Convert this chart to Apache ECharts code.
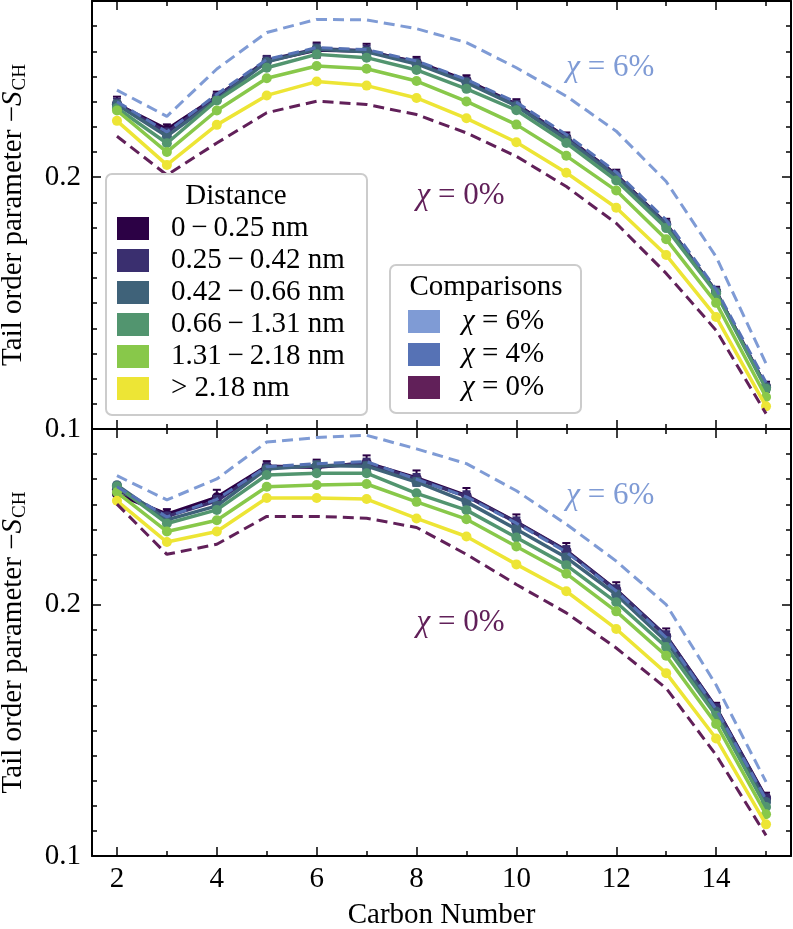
<!DOCTYPE html>
<html><head><meta charset="utf-8">
<script src="https://cdn.jsdelivr.net/npm/echarts@6/dist/echarts.min.js"></script>
<style>html,body{margin:0;padding:0;background:#fff}#c{width:793px;height:929px}</style>
</head><body><div id="c"></div>
<script>
// ---------------- data ----------------
const carbons = [2,3,4,5,6,7,8,9,10,11,12,13,14,15];
const xTickMajor = [2,4,6,8,10,12,14];
const xTickMinor = [3,5,7,9,11,13,15];
const yTickMajor = [0.1,0.2];
const yTickMinor = [0.11,0.12,0.13,0.14,0.15,0.16,0.17,0.18,0.19,0.21,0.22,0.23,0.24,0.25,0.26,0.27];

const distanceNames = ['0\u2009−\u20090.25 nm','0.25\u2009−\u20090.42 nm','0.42\u2009−\u20090.66 nm','0.66\u2009−\u20091.31 nm','1.31\u2009−\u20092.18 nm','> 2.18 nm'];
const comparisonNames = ['χ = 6%','χ = 4%','χ = 0%'];

// top panel
const topD1 = [0.2290,0.2190,0.2320,0.2462,0.2505,0.2500,0.2458,0.2385,0.2290,0.2158,0.2010,0.1815,0.1545,0.1168];
const topD2 = [0.2292,0.2178,0.2318,0.2465,0.2510,0.2502,0.2455,0.2380,0.2288,0.2155,0.2008,0.1813,0.1546,0.1167];
const topD3 = [0.2289,0.2163,0.2308,0.2458,0.2508,0.2498,0.2450,0.2376,0.2283,0.2150,0.2003,0.1810,0.1544,0.1166];
const topD4 = [0.2275,0.2135,0.2305,0.2435,0.2488,0.2475,0.2426,0.2351,0.2266,0.2136,0.1987,0.1798,0.1539,0.1160];
const topD5 = [0.2265,0.2100,0.2265,0.2393,0.2442,0.2431,0.2382,0.2301,0.2209,0.2085,0.1947,0.1754,0.1501,0.1127];
const topD6 = [0.2224,0.2049,0.2208,0.2325,0.2380,0.2364,0.2315,0.2234,0.2139,0.2018,0.1879,0.1691,0.1445,0.1090];
const topChi6 = [0.2346,0.2242,0.2430,0.2575,0.2627,0.2625,0.2590,0.2535,0.2435,0.2322,0.2183,0.1983,0.1684,0.1260];
const topChi4 = [0.2300,0.2180,0.2330,0.2468,0.2515,0.2507,0.2462,0.2388,0.2298,0.2170,0.2020,0.1830,0.1555,0.1185];
const topChi0 = [0.2163,0.2009,0.2136,0.2256,0.2302,0.2289,0.2249,0.2176,0.2083,0.1963,0.1817,0.1618,0.1392,0.1061];
const topErr1 = [0.003,0.002,0.002,0.002,0.003,0.003,0.002,0.002,0.002,0.002,0.002,0.002,0.002,0.002];
const topErr2 = [0.002,0.0015,0.0015,0.0015,0.002,0.002,0.0015,0.0015,0.0015,0.0015,0.0015,0.0015,0.0015,0.0015];
const topErr3 = [0.0015,0.001,0.001,0.001,0.0015,0.0015,0.001,0.001,0.001,0.001,0.001,0.001,0.001,0.001];

// bottom panel
const botD1 = [0.2441,0.2361,0.2428,0.2552,0.2548,0.2565,0.2505,0.2435,0.2330,0.2216,0.2060,0.1876,0.1590,0.1232];
const botD2 = [0.2460,0.2352,0.2414,0.2548,0.2552,0.2562,0.2501,0.2432,0.2328,0.2214,0.2058,0.1875,0.1588,0.1229];
const botD3 = [0.2476,0.2338,0.2394,0.2541,0.2555,0.2552,0.2489,0.2410,0.2301,0.2188,0.2041,0.1855,0.1575,0.1215];
const botD4 = [0.2472,0.2324,0.2378,0.2517,0.2524,0.2524,0.2444,0.2377,0.2268,0.2158,0.2010,0.1832,0.1558,0.1195];
const botD5 = [0.2448,0.2292,0.2337,0.2470,0.2477,0.2481,0.2410,0.2341,0.2232,0.2124,0.1974,0.1797,0.1526,0.1166];
const botD6 = [0.2414,0.2250,0.2292,0.2425,0.2425,0.2421,0.2344,0.2272,0.2161,0.2054,0.1904,0.1728,0.1468,0.1126];
const botChi6 = [0.2514,0.2418,0.2501,0.2648,0.2666,0.2675,0.2621,0.2562,0.2454,0.2321,0.2174,0.2001,0.1681,0.1295];
const botChi4 = [0.2470,0.2350,0.2420,0.2550,0.2562,0.2570,0.2500,0.2430,0.2325,0.2210,0.2055,0.1870,0.1585,0.1225];
const botChi0 = [0.2401,0.2201,0.2241,0.2352,0.2352,0.2345,0.2308,0.2201,0.2081,0.1968,0.1828,0.1668,0.1402,0.1082];
const botErr1 = [0.002,0.002,0.003,0.002,0.003,0.003,0.003,0.003,0.003,0.003,0.003,0.003,0.002,0.002];
const botErr2 = [0.0015,0.0015,0.002,0.0015,0.002,0.002,0.002,0.002,0.002,0.002,0.002,0.002,0.0015,0.0015];
const botErr3 = [0.001,0.001,0.0015,0.001,0.0015,0.0015,0.0015,0.0015,0.0015,0.0015,0.0015,0.0015,0.001,0.001];

// annotations [x, y] in data units
const annot6 = [11, 0.2435];
const annot0 = [8, 0.1928];

// ---------------- style ----------------
const FONT = '"Liberation Serif", "Times New Roman", serif';
const FS = 29;
const AFS = 31;
const distanceColors = ['#2c0145','#3a2f6f','#3f6279','#52956f','#88c84a','#ede535'];
const comparisonColors = ['#7f9bd5','#5672b5','#612059'];

const panels = [
  {d:[topD1,topD2,topD3,topD4,topD5,topD6], c:[topChi6,topChi4,topChi0], e:[topErr1,topErr2,topErr3]},
  {d:[botD1,botD2,botD3,botD4,botD5,botD6], c:[botChi6,botChi4,botChi0], e:[botErr1,botErr2,botErr3]}
];

const grids = [
  {left:92, right:2, top:1, height:428, containLabel:false, outerBoundsMode:'none'},
  {left:92, right:2, top:429, height:427, containLabel:false, outerBoundsMode:'none'}
];

const xAxes = [], yAxes = [], series = [];
const axLine = {show:true, onZero:false, lineStyle:{color:'#000', width:2}};
panels.forEach((p, g) => {
  ['bottom','top'].forEach(pos => {
    xAxes.push({type:'value', gridIndex:g, position:pos, min:1.5, max:15.5,
      axisLine:axLine, splitLine:{show:false},
      axisTick:{show:true, inside:true, length:9, customValues:xTickMajor, lineStyle:{color:'#000', width:1.5}},
      axisLabel:{show:(g===1 && pos==='bottom'), customValues:xTickMajor, color:'#000', fontFamily:FONT, fontSize:FS, margin:9},
      name:(g===1 && pos==='bottom') ? 'Carbon Number' : '', nameLocation:'middle', nameGap:45,
      nameTextStyle:{color:'#000', fontFamily:FONT, fontSize:FS}});
    xAxes.push({type:'value', gridIndex:g, position:pos, min:1.5, max:15.5,
      axisLine:{show:false, onZero:false}, splitLine:{show:false},
      axisTick:{show:true, inside:true, length:5, customValues:xTickMinor, lineStyle:{color:'#000', width:1.5}},
      axisLabel:{show:false}});
  });
  ['left','right'].forEach(pos => {
    yAxes.push({type:'value', gridIndex:g, position:pos, min:0.1, max:0.27,
      axisLine:axLine, splitLine:{show:false},
      axisTick:{show:true, inside:true, length:9, customValues:yTickMajor, lineStyle:{color:'#000', width:1.5}},
      axisLabel:{show:pos==='left', customValues:yTickMajor, color:'#000', fontFamily:FONT, fontSize:FS, margin:11,
        formatter:v => v.toFixed(1)},
      name: pos==='left' ? '{t|Tail order parameter −}{s|S}{c|CH}' : '',
      nameLocation:'middle', nameRotate:90, nameGap:62,
      nameTextStyle:{color:'#000', fontFamily:FONT, fontSize:FS,
        rich:{t:{fontFamily:FONT, fontSize:FS, color:'#000', lineHeight:34},
              s:{fontFamily:FONT, fontSize:FS, fontStyle:'italic', color:'#000', lineHeight:34},
              c:{fontFamily:FONT, fontSize:19, color:'#000', lineHeight:19, padding:[13,0,0,1], verticalAlign:'bottom'}}}});
    yAxes.push({type:'value', gridIndex:g, position:pos, min:0.1, max:0.27,
      axisLine:{show:false, onZero:false}, splitLine:{show:false},
      axisTick:{show:true, inside:true, length:5, customValues:yTickMinor, lineStyle:{color:'#000', width:1.5}},
      axisLabel:{show:false}});
  });

  const xi = g*4, yi = g*4;
  // distance series
  p.d.forEach((vals, k) => {
    series.push({type:'line', name:distanceNames[k], xAxisIndex:xi, yAxisIndex:yi,
      data:carbons.map((c,i)=>[c, vals[i]]), symbol:'circle', symbolSize:10, showSymbol:true,
      color:distanceColors[k], lineStyle:{width:3.5, color:distanceColors[k]},
      itemStyle:{color:distanceColors[k]}, z:2+k*0.01, animation:false});
    if (k < 3) {
      const errs = p.e[k];
      series.push({type:'custom', name:'err'+g+k, xAxisIndex:xi, yAxisIndex:yi,
        data:carbons.map((c,i)=>[c, vals[i]-errs[i], vals[i]+errs[i]]),
        encode:{x:0, y:[1,2]}, itemStyle:{color:distanceColors[k]}, z:2+k*0.01, animation:false,
        renderItem:(params, api) => {
          const x = api.value(0);
          const a = api.coord([x, api.value(2)]), b = api.coord([x, api.value(1)]);
          const w = 4, st = {stroke:distanceColors[k], lineWidth:2};
          return {type:'group', children:[
            {type:'line', shape:{x1:a[0],y1:a[1],x2:b[0],y2:b[1]}, style:st},
            {type:'line', shape:{x1:a[0]-w,y1:a[1],x2:a[0]+w,y2:a[1]}, style:st},
            {type:'line', shape:{x1:b[0]-w,y1:b[1],x2:b[0]+w,y2:b[1]}, style:st}]};
        }});
    }
  });
  // comparison series
  p.c.forEach((vals, k) => {
    series.push({type:'line', name:comparisonNames[k], xAxisIndex:xi, yAxisIndex:yi,
      data:carbons.map((c,i)=>[c, vals[i]]), showSymbol:false, symbol:'none',
      color:comparisonColors[k], lineStyle:{width:3, type:[11,6], color:comparisonColors[k]},
      itemStyle:{color:comparisonColors[k]}, z:3, animation:false});
  });
});

const legendText = {color:'#000', fontFamily:FONT, fontSize:FS, padding:[0,0,0,17],
  rich:{i:{fontFamily:FONT, fontSize:FS, fontStyle:'italic', color:'#000'}}};

const option = {
  animation:false,
  backgroundColor:'#fff',
  grid:grids,
  xAxis:xAxes,
  yAxis:yAxes,
  series:series,
  legend:[
    {data:distanceNames, orient:'vertical', left:117, top:214, itemWidth:32, itemHeight:23, itemGap:3,
     icon:'rect', textStyle:legendText, z:20, selectedMode:false, padding:0},
    {data:comparisonNames, orient:'vertical', left:408, top:307, itemWidth:32, itemHeight:23, itemGap:4,
     icon:'rect', textStyle:legendText, z:20, selectedMode:false, padding:0,
     formatter:n => n.replace('χ','{i|χ}')}
  ],
  graphic:[
    {type:'rect', shape:{x:106, y:174, width:261, height:241, r:6}, z:15,
     style:{fill:'rgba(255,255,255,0.85)', stroke:'#cccccc', lineWidth:2}},
    {type:'rect', shape:{x:390, y:265, width:191, height:148, r:6}, z:15,
     style:{fill:'rgba(255,255,255,0.85)', stroke:'#cccccc', lineWidth:2}},
    {type:'text', x:236, y:196, z:21, style:{text:'Distance', font:FS+'px '+FONT, fill:'#000', textAlign:'center', textVerticalAlign:'middle'}},
    {type:'text', x:486, y:287, z:21, style:{text:'Comparisons', font:FS+'px '+FONT, fill:'#000', textAlign:'center', textVerticalAlign:'middle'}}
  ]
};

const chart = echarts.init(document.getElementById('c'), null, {renderer:'canvas'});
chart.setOption(option);

// annotation labels at data positions
const ann = [];
[0,1].forEach(g => {
  const p6 = chart.convertToPixel({xAxisIndex:g*4, yAxisIndex:g*4}, annot6);
  const p0 = chart.convertToPixel({xAxisIndex:g*4, yAxisIndex:g*4}, annot0);
  ann.push({type:'text', x:p6[0], y:p6[1], z:21, style:{text:'{i|χ} = 6%', textAlign:'left', textVerticalAlign:'middle',
    font:AFS+'px '+FONT, fill:comparisonColors[0],
    rich:{i:{fontStyle:'italic', fontFamily:FONT, fontSize:AFS, fill:comparisonColors[0]}}}});
  ann.push({type:'text', x:p0[0], y:p0[1], z:21, style:{text:'{i|χ} = 0%', textAlign:'left', textVerticalAlign:'middle',
    font:AFS+'px '+FONT, fill:comparisonColors[2],
    rich:{i:{fontStyle:'italic', fontFamily:FONT, fontSize:AFS, fill:comparisonColors[2]}}}});
});
chart.setOption({graphic: option.graphic.concat(ann)});
</script>
</body></html>
